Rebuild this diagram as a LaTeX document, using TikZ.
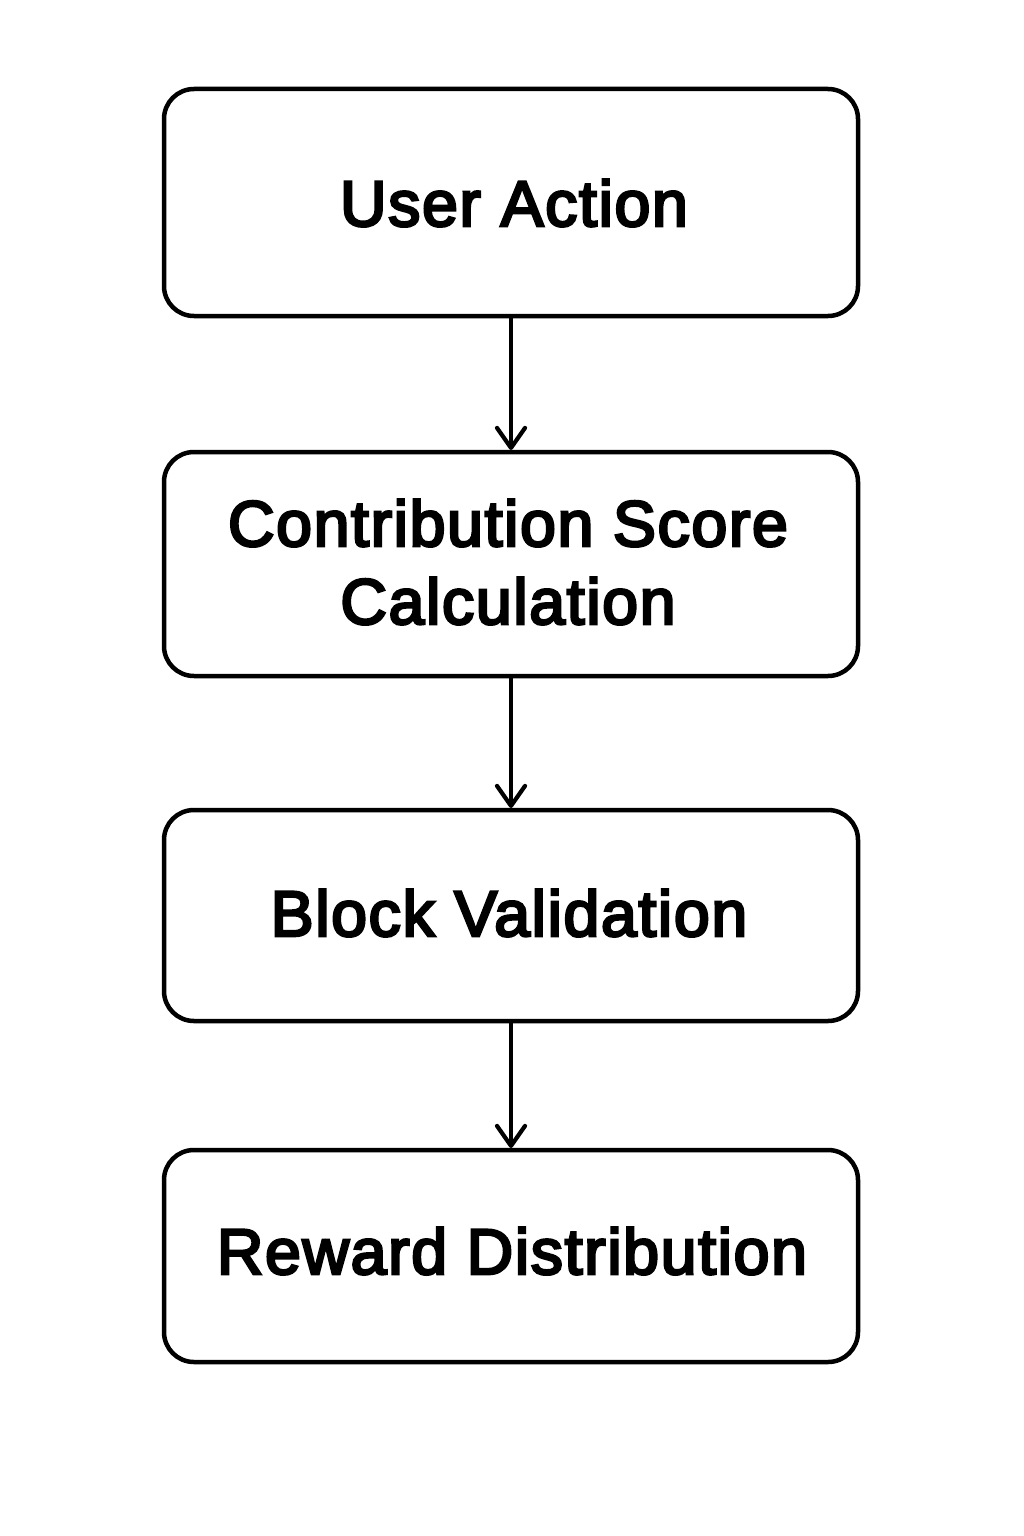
\documentclass[tikz,border=0pt]{standalone}
\usepackage{fontspec}
\setmainfont{Liberation Sans}[FakeBold=4, LetterSpace=2.5]
\usetikzlibrary{arrows.meta}
\begin{document}
\begin{tikzpicture}[x=1pt,y=-1pt,
  flowbox/.style={draw=black, line width=4.5pt, rounded corners=30pt, fill=white},
  lbl/.style={font=\fontsize{64.5}{78}\selectfont, align=center, inner sep=0pt},
  flowarrow/.style={line width=4.2pt, -{Straight Barb[length=20pt,width=28pt,line cap=round,line join=round]}}]
\useasboundingbox (0,0) rectangle (1024,1536);
\draw[flowbox] (164,89) rectangle (858,316);
\draw[flowbox] (164,452) rectangle (858,676);
\draw[flowbox] (164,810) rectangle (858,1021);
\draw[flowbox] (164,1150) rectangle (858,1362);
\coordinate (b1s) at (511,316);
\coordinate (b2n) at (511,450);
\coordinate (b2s) at (511,676);
\coordinate (b3n) at (511,808);
\coordinate (b3s) at (511,1021);
\coordinate (b4n) at (511,1148);
\node[lbl] (t1) at (514,203) {User Action};
\node[lbl] (t2) at (508,562) {Contribution Score\\Calculation};
\node[lbl] (t3) at (509,913) {Block Validation};
\node[lbl] (t4) at (512,1251) {Reward Distribution};
\draw[flowarrow] (b1s) -- (b2n);
\draw[flowarrow] (b2s) -- (b3n);
\draw[flowarrow] (b3s) -- (b4n);
\end{tikzpicture}
\end{document}
